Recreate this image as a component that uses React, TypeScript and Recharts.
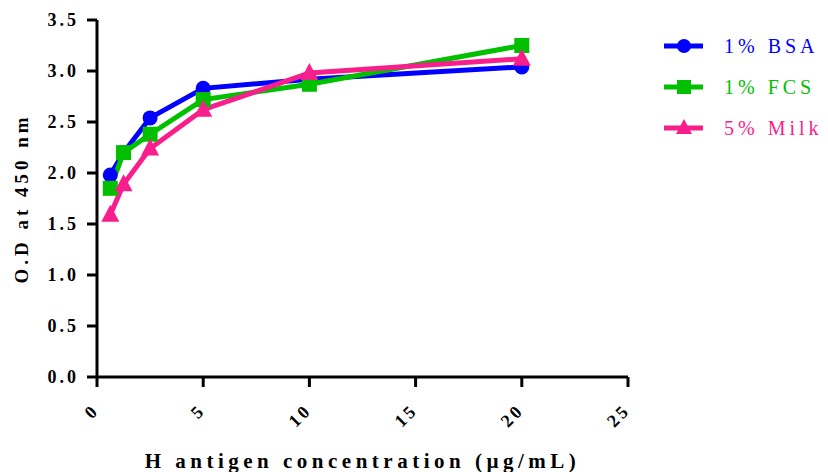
import React from 'react'
import { LineChart, Line, XAxis, YAxis } from 'recharts'

// antigen concentration (ug/mL)
const conc = [0.625, 1.25, 2.5, 5, 10, 20]
const bsa = [1.98, 2.2, 2.54, 2.83, 2.92, 3.04]
const fcs = [1.85, 2.2, 2.38, 2.72, 2.87, 3.25]
const milk = [1.59, 1.89, 2.24, 2.62, 2.98, 3.12]

const xTicks = [0, 5, 10, 15, 20, 25]
const yTicks = [0, 0.5, 1, 1.5, 2, 2.5, 3, 3.5]

const data = conc.map((c, i) => ({ c, bsa: bsa[i], fcs: fcs[i], milk: milk[i] }))

const BLUE = '#0000ff'
const GREEN = '#00c000'
const PINK = '#f81e8c'
const FONT = '"Liberation Serif", "DejaVu Serif", serif'

const Circle = (p: any) => <circle key={p.index} cx={p.cx} cy={p.cy} r={7.5} fill={BLUE} />
const Square = (p: any) => <rect key={p.index} x={p.cx - 7.5} y={p.cy - 7.5} width={15} height={15} fill={GREEN} />
const Tri = (p: any) => (
  <polygon key={p.index} points={`${p.cx},${p.cy - 10} ${p.cx - 9},${p.cy + 7} ${p.cx + 9},${p.cy + 7}`} fill={PINK} />
)

const XTick = ({ x, y, payload }: any) => (
  <text
    x={x - 1}
    y={y + 18}
    transform={`rotate(-45, ${x - 1}, ${y + 18})`}
    textAnchor="end"
    dominantBaseline="central"
    fontFamily={FONT}
    fontWeight="bold"
    fontSize={18}
    letterSpacing={3}
    fill="#000"
  >
    {payload.value}
  </text>
)

const YTick = ({ x, y, payload }: any) => (
  <text
    x={x - 6}
    y={y}
    textAnchor="end"
    dominantBaseline="central"
    fontFamily={FONT}
    fontWeight="bold"
    fontSize={18}
    letterSpacing={3}
    fill="#000"
  >
    {payload.value.toFixed(1)}
  </text>
)

const legend = [
  { name: '1% BSA', color: BLUE, shape: 'circle' },
  { name: '1% FCS', color: GREEN, shape: 'square' },
  { name: '5% Milk', color: PINK, shape: 'tri' },
]

export default function App() {
  return (
    <div style={{ position: 'absolute', left: 0, top: 0, width: 828, height: 472, background: '#fff' }}>
      <LineChart width={828} height={472} data={data} margin={{ top: 20, right: 200, bottom: 0, left: 0 }}>
        <XAxis
          dataKey="c"
          type="number"
          domain={[0, 25]}
          ticks={xTicks}
          interval={0}
          axisLine={{ stroke: '#000', strokeWidth: 3 }}
          tickLine={{ stroke: '#000', strokeWidth: 3 }}
          tickSize={10}
          tick={<XTick />}
          height={95}
          label={{
            value: 'H antigen concentration (µg/mL)',
            position: 'insideBottom',
            offset: 4,
            style: { fontFamily: FONT, fontWeight: 'bold', fontSize: 21, letterSpacing: 4.5, fill: '#000' },
          }}
        />
        <YAxis
          type="number"
          domain={[0, 3.5]}
          ticks={yTicks}
          interval={0}
          width={97}
          axisLine={{ stroke: '#000', strokeWidth: 3 }}
          tickLine={{ stroke: '#000', strokeWidth: 3 }}
          tickSize={10}
          tick={<YTick />}
          label={{
            value: 'O.D at 450 nm',
            angle: -90,
            position: 'insideLeft',
            offset: 21,
            style: { fontFamily: FONT, fontWeight: 'bold', fontSize: 19, letterSpacing: 4, fill: '#000', textAnchor: 'middle' },
          }}
        />
        <Line dataKey="bsa" stroke={BLUE} strokeWidth={5} dot={Circle} isAnimationActive={false} />
        <Line dataKey="fcs" stroke={GREEN} strokeWidth={5} dot={Square} isAnimationActive={false} />
        <Line dataKey="milk" stroke={PINK} strokeWidth={5} dot={Tri} isAnimationActive={false} />
      </LineChart>
      <svg width={170} height={120} style={{ position: 'absolute', left: 658, top: 25 }}>
        {legend.map((l, i) => {
          const cy = 21 + i * 41
          return (
            <g key={l.name}>
              <line x1={6} x2={45} y1={cy} y2={cy} stroke={l.color} strokeWidth={5} />
              {l.shape === 'circle' && <circle cx={26} cy={cy} r={7} fill={l.color} />}
              {l.shape === 'square' && <rect x={19} y={cy - 7} width={14} height={14} fill={l.color} />}
              {l.shape === 'tri' && (
                <polygon points={`26,${cy - 9} 18,${cy + 6} 34,${cy + 6}`} fill={l.color} />
              )}
              <text x={66} y={cy} dominantBaseline="central" fontFamily={FONT} fontSize={20} letterSpacing={4} fill={l.color}>
                {l.name}
              </text>
            </g>
          )
        })}
      </svg>
    </div>
  )
}
